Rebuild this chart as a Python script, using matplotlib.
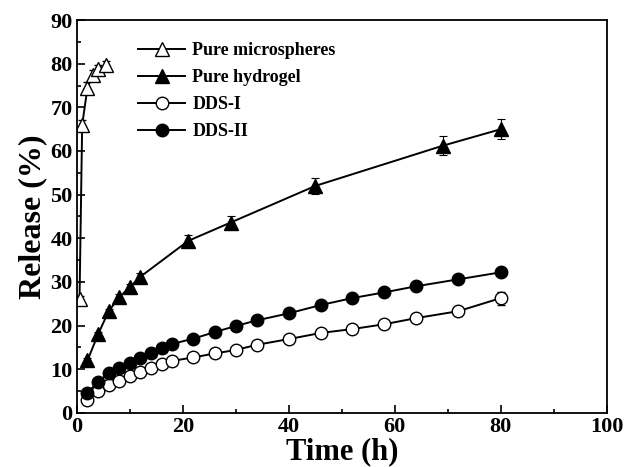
import numpy as np
import matplotlib.pyplot as plt
from matplotlib.ticker import MultipleLocator

# Pure microspheres
t_micro = [0.5, 1, 2, 3, 4, 5.5]
r_micro = [26, 66, 74.5, 77.5, 78.8, 79.6]
e_micro = [0.8, 1.0, 1.2, 1.0, 1.0, 1.0]

# Pure hydrogel
t_gel = [2, 4, 6, 8, 10, 12, 21, 29, 45, 69, 80]
r_gel = [12, 18, 23.3, 26.5, 28.8, 31.2, 39.4, 43.6, 52, 61.2, 65.0]
e_gel = [0.5, 0.5, 0.6, 0.7, 0.8, 0.9, 1.3, 1.4, 1.8, 2.2, 2.3]

# DDS-I
t_dds1 = [2, 4, 6, 8, 10, 12, 14, 16, 18, 22, 26, 30, 34, 40, 46, 52, 58, 64, 72, 80]
r_dds1 = [3.0, 4.9, 6.4, 7.4, 8.4, 9.4, 10.3, 11.2, 11.9, 12.7, 13.6, 14.4, 15.6,
          16.9, 18.3, 19.2, 20.3, 21.7, 23.3, 26.3]
e_dds1 = [0.5, 0.5, 0.5, 0.5, 0.5, 0.5, 0.5, 0.5, 0.5, 0.5, 0.5, 0.5, 0.5,
          0.6, 0.6, 0.6, 0.6, 0.7, 0.8, 1.5]

# DDS-II
t_dds2 = [2, 4, 6, 8, 10, 12, 14, 16, 18, 22, 26, 30, 34, 40, 46, 52, 58, 64, 72, 80]
r_dds2 = [4.6, 7.1, 9.1, 10.3, 11.5, 12.6, 13.8, 14.8, 15.8, 17.0, 18.5, 19.9, 21.2,
          22.8, 24.7, 26.3, 27.6, 29.0, 30.6, 32.2]
e_dds2 = [0.4, 0.4, 0.4, 0.4, 0.4, 0.4, 0.4, 0.4, 0.4, 0.4, 0.5, 0.5, 0.5,
          0.5, 0.5, 0.5, 0.5, 0.6, 0.6, 0.7]

plt.rcParams['font.family'] = 'Liberation Serif'
plt.rcParams['font.weight'] = 'bold'

fig = plt.figure(figsize=(6.25, 4.67), dpi=100)
ax = fig.add_axes([0.123, 0.116, 0.848, 0.841])

kw = dict(color='black', lw=1.4, capsize=3, elinewidth=0.8, capthick=0.8)
c1 = ax.errorbar(t_micro, r_micro, yerr=e_micro, marker='^', ms=10, mfc='white',
                 mec='black', mew=1.0, **kw)
c2 = ax.errorbar(t_gel, r_gel, yerr=e_gel, marker='^', ms=10, mfc='black',
                 mec='black', **kw)
c3 = ax.errorbar(t_dds1, r_dds1, yerr=e_dds1, marker='o', ms=9, mfc='white',
                 mec='black', mew=1.0, **kw)
c4 = ax.errorbar(t_dds2, r_dds2, yerr=e_dds2, marker='o', ms=9, mfc='black',
                 mec='black', **kw)

ax.set_xlim(0, 100)
ax.set_ylim(0, 90)
ax.xaxis.set_major_locator(MultipleLocator(20))
ax.xaxis.set_minor_locator(MultipleLocator(10))
ax.yaxis.set_major_locator(MultipleLocator(10))
ax.yaxis.set_minor_locator(MultipleLocator(5))
ax.tick_params(which='both', direction='in', top=False, right=False,
               labelsize=16, width=1.2, pad=3)
ax.tick_params(which='major', length=6)
ax.tick_params(which='minor', length=3)
for lab in ax.get_xticklabels() + ax.get_yticklabels():
    lab.set_fontweight('bold')
for s in ax.spines.values():
    s.set_linewidth(1.3)

ax.set_xlabel('Time (h)', fontsize=22, fontweight='bold', labelpad=0)
ax.set_ylabel('Release (%)', fontsize=23, fontweight='bold', labelpad=2)

ax.legend([c1[0], c2[0], c3[0], c4[0]],
          ['Pure microspheres', 'Pure hydrogel', 'DDS-I', 'DDS-II'],
          loc='upper left', frameon=False,
          prop={'weight': 'bold', 'size': 13}, bbox_to_anchor=(0.085, 0.985),
          handlelength=2.6, labelspacing=0.55, handletextpad=0.4)

fig.savefig('out.png', dpi=100)
